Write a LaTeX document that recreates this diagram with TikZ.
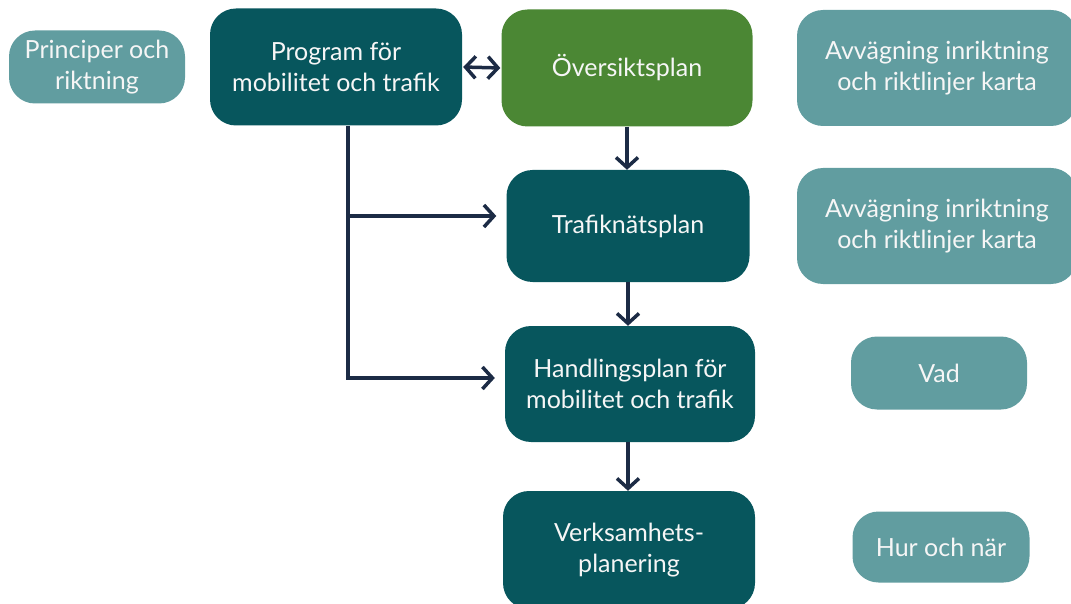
\documentclass[tikz,border=0pt]{standalone}
\usepackage{fontspec}
\setmainfont{Lato}
\usetikzlibrary{arrows.meta}
\definecolor{darkteal}{HTML}{07565D}
\definecolor{lightteal}{HTML}{619DA0}
\definecolor{leafgreen}{HTML}{4B8734}
\definecolor{navy}{HTML}{1C2B45}
\definecolor{txt}{HTML}{F6F6F6}
\tikzset{
  box/.style={rounded corners=26pt, text=txt, align=center, inner sep=0pt,
    font=\fontsize{25}{31.5}\selectfont},
  darkbox/.style={box, fill=darkteal},
  lightbox/.style={box, fill=lightteal},
  greenbox/.style={box, fill=leafgreen},
  tip/.style={},
  arr/.style={draw=navy, line width=3.5pt, -{Straight Barb[length=10pt,width=22pt,line width=3.5pt]}},
  darr/.style={draw=navy, line width=3.5pt, {Straight Barb[length=10pt,width=22pt,line width=3.5pt]}-{Straight Barb[length=10pt,width=22pt,line width=3.5pt]}}
}
\begin{document}
\begin{tikzpicture}[x=1pt,y=-1pt]
\useasboundingbox (0,0) rectangle (1071,604);
\clip (0,0) rectangle (1071,604);
\node[lightbox, minimum width=176pt, minimum height=73pt] (prin) at (97,67) {Principer och\\riktning};
\node[darkbox, minimum width=252pt, minimum height=117pt] (prog) at (336,67) {Program för\\mobilitet och trafik};
\node[greenbox, minimum width=251pt, minimum height=117pt] (over) at (627,68) {Översiktsplan};
\node[lightbox, minimum width=280pt, minimum height=116pt] (avv1) at (937,68) {Avvägning inriktning\\och riktlinjer karta};
\node[darkbox, minimum width=243pt, minimum height=112pt] (traf) at (628,226) {Trafiknätsplan};
\node[lightbox, minimum width=280pt, minimum height=116pt] (avv2) at (937,226) {Avvägning inriktning\\och riktlinjer karta};
\node[darkbox, minimum width=250pt, minimum height=116pt] (hand) at (630,384) {Handlingsplan för\\mobilitet och trafik};
\node[lightbox, minimum width=176pt, minimum height=73pt] (vad) at (939,373) {Vad};
\node[darkbox, minimum width=252pt, minimum height=118pt] (verk) at (629,550) {Verksamhets-\\planering};
\node[lightbox, minimum width=177pt, minimum height=71pt] (hur) at (941,547) {Hur och när};
\coordinate (j1) at (348,216);
\coordinate (j2) at (348,378);
\draw[darr, shorten <=1pt, shorten >=1pt] (prog.east) -- (over.west);
\draw[arr] (over.south) -- (over.south |- traf.north);
\draw[arr] (traf.south) -- (traf.south |- hand.north);
\draw[arr] (hand.south -| traf.south) -- (traf.south |- verk.north);
\draw[arr, shorten >=10pt] (prog.south -| j2) |- (hand.west |- j2);
\draw[arr, shorten >=10pt] (j1) -- (traf.west |- j1);
\end{tikzpicture}
\end{document}
